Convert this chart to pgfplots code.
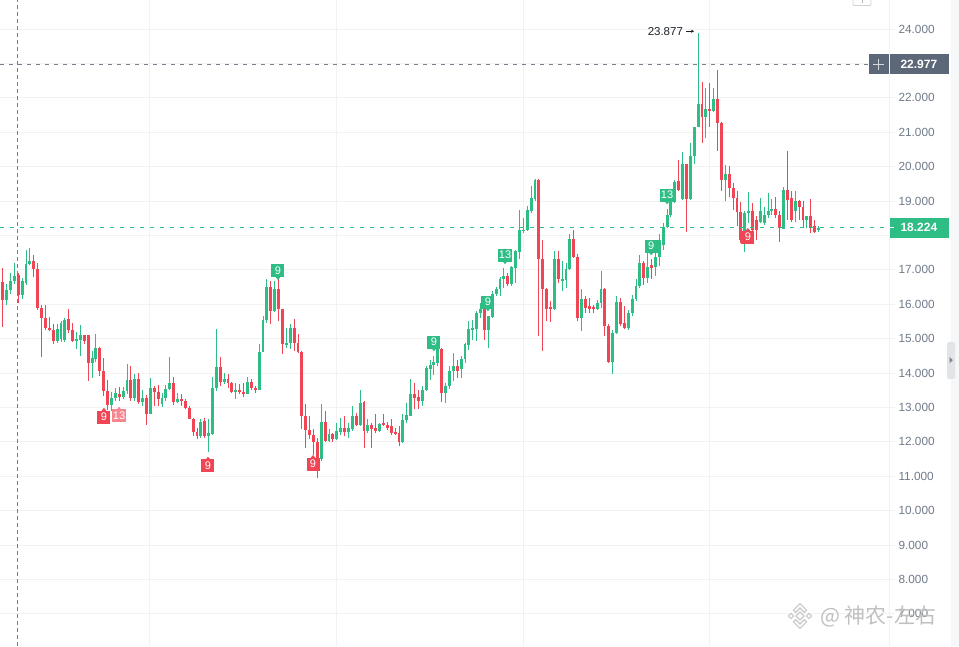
\documentclass[border=0pt]{standalone}
\usepackage{pgfplots}
\pgfplotsset{compat=1.18}
\usepackage{pgfplotstable}
\usepackage{fontspec}
\setmainfont{Liberation Sans}
\newfontfamily\cjk{Noto Sans CJK SC}
\usetikzlibrary{arrows.meta}
\definecolor{cgreen}{RGB}{46,189,133}
\definecolor{cred}{RGB}{239,69,84}
\definecolor{gridc}{RGB}{241,242,244}
\definecolor{labelgray}{RGB}{112,122,138}
\definecolor{slate}{RGB}{92,103,120}
\definecolor{dashc}{RGB}{118,126,140}
\definecolor{stripc}{RGB}{246,247,249}
\definecolor{tabc}{RGB}{226,228,232}
\definecolor{darktxt}{RGB}{30,35,41}
\definecolor{arrowc}{RGB}{125,131,143}
\definecolor{wmc}{RGB}{200,200,200}
\definecolor{wmt}{RGB}{192,192,192}

\pgfplotstableread{
i O H L C
0 16.65 17.04 15.33 16.12
1 16.12 16.60 15.97 16.42
2 16.42 16.90 16.30 16.66
3 16.66 17.19 16.60 16.83
4 16.86 16.90 16.03 16.28
5 16.28 16.76 16.14 16.66
6 16.63 17.58 16.56 17.17
7 17.16 17.63 17.14 17.27
8 17.26 17.44 16.80 17.02
9 17.02 17.19 15.84 15.89
10 15.89 15.98 14.46 15.60
11 15.60 15.98 15.26 15.31
12 15.31 15.64 15.21 15.24
13 15.26 15.41 14.83 14.92
14 14.92 15.42 14.87 15.28
15 15.00 15.50 14.90 15.45
16 14.95 15.60 14.90 15.55
17 15.57 15.85 15.15 15.24
18 15.24 15.45 14.90 14.92
19 14.94 15.20 14.70 14.99
20 14.97 15.40 14.50 15.10
21 15.10 15.10 14.85 14.92
22 15.10 15.10 13.78 14.29
23 14.29 14.65 13.85 14.43
24 14.42 15.13 14.32 14.73
25 14.73 14.75 13.90 14.05
26 14.05 14.45 13.33 13.47
27 13.47 13.80 12.93 13.08
28 13.06 13.45 12.90 13.27
29 13.27 13.55 13.20 13.42
30 13.40 13.60 13.20 13.30
31 13.30 13.60 13.25 13.47
32 13.47 14.27 13.40 13.80
33 13.80 14.20 13.20 13.28
34 13.28 13.97 13.20 13.82
35 13.82 14.00 13.10 13.16
36 13.16 13.52 13.05 13.28
37 13.28 13.35 12.49 12.80
38 12.80 13.86 12.80 13.57
39 13.57 13.62 13.05 13.45
40 13.45 13.64 13.04 13.23
41 13.09 13.41 13.02 13.28
42 13.28 13.64 13.20 13.54
43 13.54 14.47 13.50 13.72
44 13.72 13.89 13.06 13.16
45 13.16 13.41 13.14 13.25
46 13.25 13.40 13.04 13.18
47 13.18 13.25 12.94 12.99
48 12.99 13.04 12.65 12.67
49 12.67 12.70 12.16 12.28
50 12.28 12.40 12.07 12.18
51 12.18 12.67 12.12 12.57
52 12.60 12.70 12.10 12.18
53 12.18 12.67 11.70 12.25
54 12.24 13.89 12.20 13.57
55 13.57 15.29 13.47 14.18
56 14.18 14.47 13.62 13.74
57 13.74 14.00 13.67 13.83
58 13.83 13.96 13.57 13.70
59 13.70 13.74 13.43 13.45
60 13.45 13.72 13.23 13.52
61 13.52 13.67 13.38 13.45
62 13.45 13.70 13.31 13.40
63 13.40 13.89 13.38 13.75
64 13.75 13.82 13.52 13.57
65 13.57 13.62 13.41 13.50
66 13.50 14.83 13.50 14.62
67 14.62 15.66 14.60 15.53
68 15.53 16.73 15.46 16.51
69 16.49 16.68 15.42 15.81
70 15.81 16.68 15.76 16.44
71 16.44 16.73 15.51 15.85
72 15.85 15.87 14.54 14.83
73 14.83 15.32 14.74 14.88
74 14.88 15.42 14.71 15.32
75 15.32 15.56 14.64 14.88
76 14.88 15.13 14.59 14.61
77 14.61 14.64 12.36 12.75
78 12.75 13.09 11.83 12.34
79 12.34 12.75 12.07 12.21
80 12.21 12.36 11.63 11.99
81 11.99 12.10 10.95 11.49
82 11.49 13.09 11.45 12.58
83 12.58 12.89 11.99 12.02
84 12.02 12.36 11.99 12.24
85 12.24 12.27 12.00 12.07
86 12.07 12.55 12.05 12.30
87 12.28 12.70 12.21 12.39
88 12.39 12.75 12.17 12.28
89 12.28 12.55 12.12 12.39
90 12.36 13.04 12.31 12.75
91 12.75 12.84 12.45 12.49
92 12.49 13.52 12.45 13.14
93 13.16 13.19 11.83 12.31
94 12.31 12.65 12.26 12.50
95 12.50 12.55 11.83 12.36
96 12.41 12.80 12.26 12.31
97 12.31 12.55 12.28 12.53
98 12.55 12.80 12.45 12.49
99 12.49 12.57 12.34 12.41
100 12.45 12.65 12.21 12.26
101 12.29 12.41 12.21 12.24
102 12.26 12.45 11.87 11.99
103 11.99 12.80 11.97 12.62
104 12.62 13.12 12.55 12.77
105 12.76 13.83 12.74 13.40
106 13.40 13.71 12.95 13.27
107 13.30 13.50 12.95 13.18
108 13.18 13.61 13.05 13.50
109 13.50 14.21 13.47 14.15
110 14.13 14.39 13.80 14.24
111 14.24 14.49 13.95 14.31
112 14.29 14.78 14.19 14.73
113 14.70 14.73 13.17 13.42
114 13.42 13.71 13.13 13.63
115 13.63 14.19 13.53 14.05
116 14.05 14.58 13.76 14.19
117 14.21 14.37 13.85 14.05
118 14.13 14.49 13.85 14.41
119 14.41 14.87 14.29 14.83
120 14.80 15.50 14.68 15.28
121 15.24 15.55 14.97 15.31
122 15.28 15.80 14.92 15.75
123 15.73 16.04 15.60 15.86
124 15.86 15.89 14.97 15.26
125 15.26 15.65 14.73 15.65
126 15.63 16.38 15.60 16.31
127 16.31 16.50 16.23 16.45
128 16.45 16.80 16.23 16.74
129 16.72 17.06 16.48 16.83
130 16.83 16.91 16.52 16.60
131 16.60 17.11 16.52 17.09
132 17.06 17.59 16.62 17.54
133 17.51 18.74 17.32 18.16
134 18.14 18.51 18.08 18.17
135 18.16 18.85 18.13 18.74
136 18.71 19.44 18.66 19.10
137 19.05 19.63 19.00 19.61
138 19.61 19.63 15.07 17.32
139 17.32 17.88 14.63 16.45
140 16.45 16.48 15.50 15.86
141 15.92 16.09 15.48 15.86
142 15.86 17.54 15.84 17.30
143 17.30 17.54 16.62 16.72
144 16.66 17.25 16.38 16.72
145 16.70 17.20 16.48 17.03
146 17.03 18.03 17.00 17.90
147 17.90 18.17 17.35 17.38
148 17.38 17.45 15.50 15.60
149 15.60 16.45 15.21 16.16
150 16.16 16.23 15.75 15.89
151 15.94 16.18 15.75 15.86
152 15.91 15.99 15.73 15.86
153 15.86 16.11 15.84 16.04
154 16.04 16.96 15.89 16.43
155 16.43 16.48 15.07 15.38
156 15.38 15.41 14.29 14.31
157 14.31 15.26 13.98 15.17
158 15.17 16.23 15.12 16.06
159 16.06 16.18 15.36 15.41
160 15.46 15.94 15.28 15.31
161 15.31 15.84 15.26 15.75
162 15.75 16.28 15.65 16.14
163 16.14 16.72 16.09 16.52
164 16.52 17.42 16.48 17.20
165 17.20 17.25 16.57 16.77
166 16.77 17.51 16.62 17.09
167 17.13 17.30 16.72 17.06
168 17.09 17.59 16.81 17.38
169 17.38 18.03 17.11 17.88
170 17.72 18.37 17.57 18.25
171 18.25 18.78 18.22 18.59
172 18.59 19.08 18.54 18.98
173 18.98 19.61 18.95 19.56
174 19.58 20.19 19.28 19.32
175 19.05 20.43 19.03 20.07
176 20.07 20.07 18.11 19.05
177 19.05 20.68 19.03 20.31
178 20.31 21.16 20.07 21.16
179 21.16 23.877 21.16 21.82
180 21.82 22.47 20.68 21.45
181 21.45 22.28 20.82 21.67
182 21.67 22.42 21.16 21.63
183 21.63 22.28 21.60 21.96
184 21.96 22.81 20.44 21.28
185 21.28 21.31 19.28 19.60
186 19.60 20.05 18.99 19.79
187 19.79 20.02 19.13 19.37
188 19.37 19.52 18.74 19.08
189 19.08 19.30 18.26 18.67
190 18.67 18.96 17.79 17.87
191 17.82 18.70 17.53 18.65
192 18.65 19.25 18.36 18.70
193 18.70 18.94 18.07 18.16
194 18.45 18.55 17.87 18.16
195 18.40 19.08 18.36 18.72
196 18.36 18.84 18.31 18.60
197 18.60 19.23 18.50 18.70
198 18.70 19.05 18.60 18.76
199 18.76 19.13 18.50 18.60
200 18.60 18.70 17.82 18.21
201 18.18 19.42 18.18 19.32
202 19.32 20.44 18.45 19.03
203 19.08 19.28 18.40 18.45
204 18.70 19.28 18.40 18.99
205 18.99 19.03 18.45 18.84
206 18.84 18.99 18.21 18.45
207 18.45 18.57 18.21 18.55
208 18.55 19.06 18.07 18.21
209 18.26 18.45 18.07 18.11
210 18.16 18.28 18.09 18.224
}\candles

\newcommand{\tdg}[3]{%
  \fill[cgreen] (axis cs:#1,#2) ++(-2.6pt,-6pt) -- ++(5.2pt,0pt) -- ++(-2.6pt,-3.2pt) -- cycle;
  \node[fill=cgreen, text=white, inner sep=1pt, minimum width=13pt, minimum height=13pt,
        font=\fontsize{11}{11}\selectfont] at (axis cs:#1,#2) {#3};}
\newcommand{\tdr}[4]{%
  \fill[#4] (axis cs:#1,#2) ++(-2.6pt,6pt) -- ++(5.2pt,0pt) -- ++(-2.6pt,3.2pt) -- cycle;
  \node[fill=#4, text=white, inner sep=1pt, minimum width=13pt, minimum height=13pt,
        font=\fontsize{11}{11}\selectfont] at (axis cs:#1,#2) {#3};}

\begin{document}
\begin{tikzpicture}[x=1pt,y=1pt]
\fill[white] (0,0) rectangle (959,646);
\begin{axis}[
  at={(0,0)}, anchor=south west, scale only axis,
  width=889pt, height=646pt,
  xmin=-0.695, xmax=228.13, ymin=6.064, ymax=24.843,
  axis line style={draw=none},
  xtick={37.66,85.79,133.93,181.8}, xticklabels={}, xtick style={draw=none},
  ytick={6,7,...,24},
  yticklabels={6.000,7.000,8.000,9.000,10.000,11.000,12.000,13.000,14.000,15.000,16.000,17.000,,19.000,20.000,21.000,22.000,,24.000},
  ytick pos=right, yticklabel pos=right,
  tick align=outside, major tick length=6pt,
  ytick style={draw=gridc, line width=0.8pt},
  xmajorgrids, ymajorgrids,
  major grid style={draw=gridc, line width=0.8pt},
  yticklabel style={font=\fontsize{11.8}{12}\selectfont, text=labelgray, anchor=west},
  clip=false,
]
% right border
\draw[gridc, line width=0.9pt] (rel axis cs:1,0) -- (rel axis cs:1,1);
% crosshair lines
\draw[dashc, line width=0.8pt, dash pattern=on 4pt off 3pt] (axis cs:3.76,6.064) -- (axis cs:3.76,24.843);
\draw[dashc, line width=0.8pt, dash pattern=on 4pt off 5pt] (axis cs:-0.695,22.977) -- (axis cs:223,22.977);

% green wicks & bodies
\addplot[draw=none, mark=none, restrict y to domain=0:100,
  error bars/.cd, y dir=both, y explicit, error mark=none,
  error bar style={line width=0.9pt, draw=cgreen}]
  table[x=i, y expr={\thisrow{C}>=\thisrow{O} ? (\thisrow{H}+\thisrow{L})/2 : -100},
        y error expr={(\thisrow{H}-\thisrow{L})/2}] {\candles};
\addplot[draw=none, mark=none, restrict y to domain=0:100,
  error bars/.cd, y dir=both, y explicit, error mark=none,
  error bar style={line width=2.9pt, draw=cgreen}]
  table[x=i, y expr={\thisrow{C}>=\thisrow{O} ? (\thisrow{O}+\thisrow{C})/2 : -100},
        y error expr={max(abs(\thisrow{C}-\thisrow{O})/2,0.014)}] {\candles};
% red wicks & bodies
\addplot[draw=none, mark=none, restrict y to domain=0:100,
  error bars/.cd, y dir=both, y explicit, error mark=none,
  error bar style={line width=0.9pt, draw=cred}]
  table[x=i, y expr={\thisrow{C}<\thisrow{O} ? (\thisrow{H}+\thisrow{L})/2 : -100},
        y error expr={(\thisrow{H}-\thisrow{L})/2}] {\candles};
\addplot[draw=none, mark=none, restrict y to domain=0:100,
  error bars/.cd, y dir=both, y explicit, error mark=none,
  error bar style={line width=2.9pt, draw=cred}]
  table[x=i, y expr={\thisrow{C}<\thisrow{O} ? (\thisrow{O}+\thisrow{C})/2 : -100},
        y error expr={max(abs(\thisrow{C}-\thisrow{O})/2,0.014)}] {\candles};

% TD sequential labels
\tdr{26.07}{12.72}{9}{cred}
\tdr{29.94}{12.75}{13}{cred!65}
\tdr{52.84}{11.30}{9}{cred}
\tdg{70.86}{16.97}{9}
\tdr{79.87}{11.35}{9}{cred}
\tdg{111.0}{14.90}{9}
\tdg{124.9}{16.06}{9}
\tdg{129.3}{17.43}{13}
\tdg{166.9}{17.69}{9}
\tdg{171.0}{19.17}{13}
\tdr{191.8}{17.95}{9}{cred}

% max annotation
\node[anchor=east, inner sep=0pt, text=darktxt,
      font=\fontsize{11.5}{12}\selectfont] at ([xshift=-15pt,yshift=2pt]axis cs:179,23.877) {23.877};
\draw[-{Stealth[length=3.2pt,width=3.2pt]}, line width=0.7pt, darktxt]
   ([xshift=-12pt,yshift=2pt]axis cs:179,23.877) -- ([xshift=-4pt,yshift=2pt]axis cs:179,23.877);
\end{axis}

% last price line (18.224)
\draw[cgreen, line width=1.1pt, dash pattern=on 4pt off 6pt] (0,418.3) -- (889,418.3);

% price tags
\fill[slate] (869,571.8) rectangle (888.5,591.8);
\draw[white!75!slate, line width=1.1pt] (878.75,576.3) -- (878.75,587.3) (873.25,581.8) -- (884.25,581.8);
\fill[slate] (889.5,571.8) rectangle (949,591.8);
\node[anchor=west, text=white, font=\bfseries\fontsize{12}{12}\selectfont] at (897,581.8) {22.977};
\fill[cgreen] (889.5,408.3) rectangle (949,428.3);
\draw[white, line width=1pt] (889.5,418.3) -- (893.5,418.3);
\node[anchor=west, text=white, font=\bfseries\fontsize{12}{12}\selectfont] at (897,418.3) {18.224};

% right strip / scroll tab
\fill[stripc] (951,0) rectangle (959,646);
\fill[tabc, rounded corners=2pt] (947,267) rectangle (955,304);
\fill[arrowc] (949.5,289) -- (952.8,285.8) -- (949.5,282.6) -- cycle;
% top button
\draw[gray!35, line width=0.8pt, rounded corners=1pt] (853,640.5) rectangle (871,652);
\draw[gray!60, line width=0.8pt] (862,646) -- (862,642.5);

% watermark
\begin{scope}[line width=1.1pt]
\filldraw[draw=wmc, fill=white] (800,34) -- (804,30) -- (800,26) -- (796,30) -- cycle;
\filldraw[draw=wmc, fill=white] (791,32.6) -- (793.6,30) -- (791,27.4) -- (788.4,30) -- cycle;
\filldraw[draw=wmc, fill=white] (809,32.6) -- (811.6,30) -- (809,27.4) -- (806.4,30) -- cycle;
\filldraw[draw=wmc, fill=white] (793.4,35.8) -- (800,42.4) -- (806.6,35.8) -- (804.4,33.6) -- (800,38) -- (795.6,33.6) -- cycle;
\filldraw[draw=wmc, fill=white] (793.4,24.2) -- (800,17.6) -- (806.6,24.2) -- (804.4,26.4) -- (800,22) -- (795.6,26.4) -- cycle;
\end{scope}
\node[anchor=west, inner sep=0pt, text=wmt,
      font=\cjk\fontsize{21}{21}\selectfont] at (820,30) {@ 神农-左右};

\pgfresetboundingbox
\path[use as bounding box] (0,0) rectangle (959,646);
\end{tikzpicture}
\end{document}
